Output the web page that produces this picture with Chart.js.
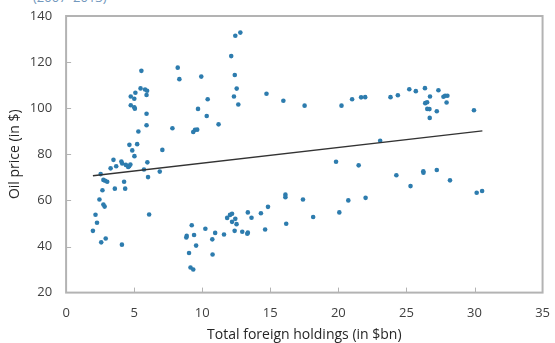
<!DOCTYPE html>
<html>
<head>
<meta charset="utf-8">
<script src="https://cdn.jsdelivr.net/npm/chart.js@4.4.1/dist/chart.umd.min.js"></script>
<style>
  html, body { margin: 0; padding: 0; background: #fff; overflow: hidden; }
  .wrap { position: relative; width: 555px; height: 343px; }
  .cut-title { position: absolute; left: 33px; top: -12px; font: 13px "Open Sans", sans-serif; color: #7398bd; }
  canvas { position: absolute; left: 0; top: 0; }
</style>
</head>
<body>
<div class="wrap">
  <div class="cut-title">(2007–2013)</div>
  <canvas id="oilChart" width="555" height="343"></canvas>
</div>
<script>
// total foreign holdings ($bn) and oil price ($)
const holdings = [
  5.53, 8.20, 8.32, 9.93, 12.13, 12.43, 12.80, 12.39, 12.53, 12.33,
  12.65, 14.72, 15.96, 17.52, 5.47, 5.80, 5.95, 5.09, 4.75, 5.01,
  5.91, 4.75, 5.01, 5.05, 5.91, 5.91, 5.31, 7.81, 10.40, 9.69,
  10.33, 11.20, 9.34, 9.47, 9.63, 4.65, 5.22, 4.86, 7.07, 5.02,
  3.48, 4.06, 4.12, 4.39, 4.56, 4.63, 4.72, 3.68, 3.27, 5.97,
  5.72, 6.88, 2.54, 6.02, 2.74, 2.87, 3.02, 4.26, 3.58, 4.34,
  2.67, 2.45, 2.74, 2.83, 2.16, 6.10, 2.27, 1.97, 2.91, 2.58,
  4.10, 9.23, 8.86, 8.83, 9.40, 9.55, 9.03, 9.14, 9.34, 10.23,
  10.76, 10.95, 10.74, 11.60, 11.83, 12.04, 12.19, 12.43, 12.19, 12.52,
  12.38, 12.94, 13.35, 13.62, 13.35, 13.31, 14.31, 14.83, 14.62, 16.11,
  16.11, 16.17, 17.40, 18.15, 19.83, 20.07, 20.73, 20.23, 21.01, 21.67,
  21.97, 23.83, 24.37, 25.21, 25.69, 26.36, 27.35, 26.73, 27.72, 27.84,
  28.01, 26.38, 26.52, 27.95, 26.53, 26.69, 27.23, 26.71, 29.96, 23.07,
  21.49, 24.26, 26.24, 26.25, 27.23, 25.30, 28.20, 22.00, 30.16, 30.56
];
const oilPrice = [
  116.2, 117.6, 112.6, 113.7, 122.6, 131.4, 132.8, 114.4, 108.5, 105.1,
  101.6, 106.3, 103.2, 101.1, 108.6, 108.1, 107.6, 106.7, 105.1, 104.1,
  105.7, 101.3, 100.4, 99.8, 97.6, 92.6, 89.9, 91.3, 103.9, 99.7,
  96.6, 93.0, 89.7, 90.6, 90.7, 84.1, 84.4, 81.7, 81.9, 79.2,
  77.6, 76.9, 76.0, 75.4, 74.5, 74.8, 75.6, 74.8, 73.9, 76.5,
  73.4, 72.5, 71.4, 70.1, 68.9, 68.5, 68.1, 68.1, 65.1, 65.1,
  64.4, 60.4, 58.2, 57.3, 53.8, 53.9, 50.3, 46.8, 43.5, 41.8,
  40.8, 49.2, 44.6, 43.9, 45.0, 40.4, 37.2, 30.9, 30.0, 47.7,
  36.5, 45.9, 43.1, 45.2, 52.4, 53.7, 54.2, 52.0, 50.7, 49.7,
  46.8, 46.4, 54.8, 52.5, 46.0, 45.5, 54.4, 57.2, 47.4, 62.5,
  61.4, 49.9, 60.4, 52.8, 76.8, 54.8, 60.0, 101.1, 103.9, 104.7,
  104.8, 104.8, 105.6, 108.2, 107.4, 108.7, 107.8, 105.1, 105.0, 105.4,
  105.4, 102.2, 102.6, 102.5, 99.7, 99.6, 98.7, 95.8, 99.1, 85.9,
  75.2, 70.9, 72.6, 72.0, 73.2, 66.2, 68.7, 61.1, 63.3, 64.1
];
// trend line end points
const trendX = [1.97, 30.58];
const trendY = [70.7, 90.2];

const xTicks = [0, 5, 10, 15, 20, 25, 30, 35];
const yTicks = [20, 40, 60, 80, 100, 120, 140];

const points = holdings.map((x, i) => ({ x: x, y: oilPrice[i] }));
const trend = trendX.map((x, i) => ({ x: x, y: trendY[i] }));

// frame round the plot area and small inward tick marks
const framePlugin = {
  id: 'frame',
  afterDraw(chart) {
    const { ctx, chartArea, scales } = chart;
    ctx.save();
    ctx.strokeStyle = '#b3b3b3';
    ctx.lineWidth = 2;
    ctx.strokeRect(chartArea.left, chartArea.top, chartArea.right - chartArea.left, chartArea.bottom - chartArea.top);
    ctx.lineWidth = 1;
    ctx.beginPath();
    xTicks.slice(1, -1).forEach(v => {
      const px = Math.round(scales.x.getPixelForValue(v)) + 0.5;
      ctx.moveTo(px, chartArea.bottom);
      ctx.lineTo(px, chartArea.bottom - 5);
    });
    yTicks.slice(1, -1).forEach(v => {
      const py = Math.round(scales.y.getPixelForValue(v)) + 0.5;
      ctx.moveTo(chartArea.left, py);
      ctx.lineTo(chartArea.left + 5, py);
    });
    ctx.stroke();
    ctx.restore();
  }
};

const font = { family: '"Open Sans", sans-serif', size: 13 };

new Chart(document.getElementById('oilChart'), {
  type: 'scatter',
  data: {
    datasets: [
      {
        data: points,
        backgroundColor: '#2d7cae',
        borderWidth: 0,
        pointRadius: 2.3,
        order: 2
      },
      {
        type: 'line',
        data: trend,
        borderColor: '#333333',
        borderWidth: 1.3,
        pointRadius: 0,
        fill: false,
        order: 1
      }
    ]
  },
  options: {
    responsive: false,
    animation: false,
    layout: { padding: { left: 7, right: 10, top: 16, bottom: 0 } },
    plugins: { legend: { display: false }, tooltip: { enabled: false } },
    scales: {
      x: {
        type: 'linear',
        min: 0,
        max: 35,
        afterBuildTicks: axis => { axis.ticks = xTicks.map(v => ({ value: v })); },
        ticks: { font: font, color: '#404040', padding: 5 },
        grid: { display: false },
        border: { display: false },
        title: { display: true, text: 'Total foreign holdings (in $bn)', font: { family: '"Open Sans", sans-serif', size: 14 }, color: '#262626', padding: { top: 0, bottom: 0 } }
      },
      y: {
        min: 20,
        max: 140,
        afterBuildTicks: axis => { axis.ticks = yTicks.map(v => ({ value: v })); },
        ticks: { font: font, color: '#404040', padding: 6 },
        grid: { display: false },
        border: { display: false },
        title: { display: true, text: 'Oil price (in $)', font: { family: '"Open Sans", sans-serif', size: 14 }, color: '#262626', padding: { top: 0, bottom: 0 } }
      }
    }
  },
  plugins: [framePlugin]
});
</script>
</body>
</html>
